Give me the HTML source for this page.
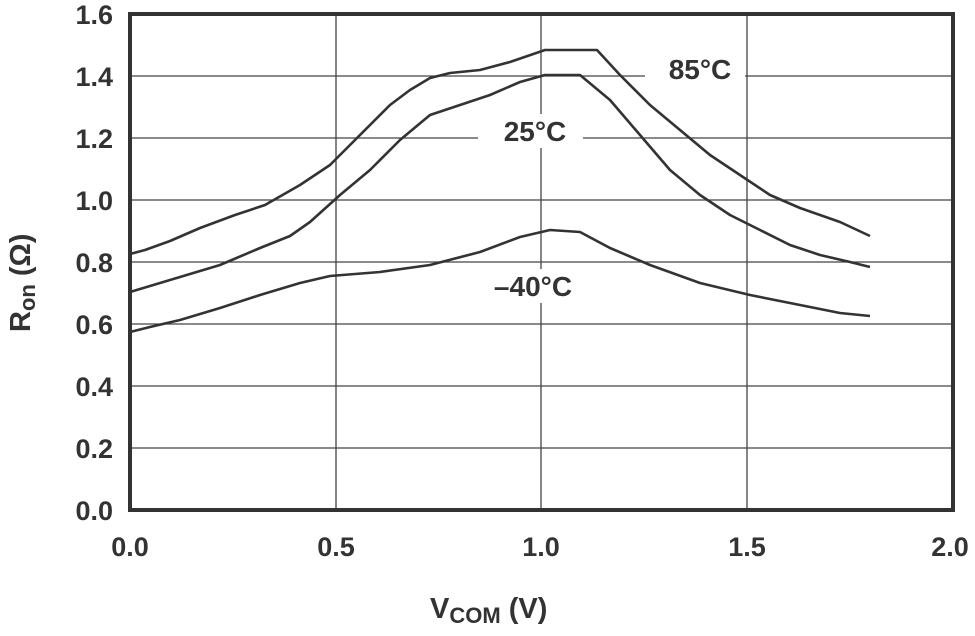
<!DOCTYPE html>
<html><head><style>body{margin:0;background:#fff}</style></head><body>
<svg width="975" height="631" xmlns="http://www.w3.org/2000/svg" font-family="Liberation Sans, sans-serif" font-weight="bold" fill="#333">
<g stroke="#444" stroke-width="1.3">
<line x1="336" y1="14" x2="336" y2="510"/><line x1="541" y1="14" x2="541" y2="510"/><line x1="747" y1="14" x2="747" y2="510"/>
<line x1="130" y1="76" x2="953" y2="76"/><line x1="130" y1="138" x2="953" y2="138"/><line x1="130" y1="200" x2="953" y2="200"/>
<line x1="130" y1="262" x2="953" y2="262"/><line x1="130" y1="324" x2="953" y2="324"/><line x1="130" y1="386" x2="953" y2="386"/><line x1="130" y1="448" x2="953" y2="448"/>
</g>
<rect x="130" y="14" width="823" height="496" fill="none" stroke="#333" stroke-width="4"/>
<g fill="none" stroke="#333" stroke-width="2.6" stroke-linejoin="round">
<polyline points="130,254 145,250 170,241 200,228 235,215 265,205 300,185 330,165 350,145 370,125 390,105 410,90 430,78 450,73 480,70 510,62 545,50 597,50 620,75 650,105 680,130 710,155 740,175 770,195 800,208 840,222 870,236"/>
<polyline points="130,292 150,286 180,277 220,265 260,248 290,236 310,222 340,195 370,170 400,140 430,115 460,105 490,95 520,82 545,75 580,75 610,100 640,135 670,170 700,195 730,215 760,230 790,245 820,255 850,262 870,267"/>
<polyline points="130,332 150,327 180,320 220,308 260,295 300,283 330,276 380,272 430,265 480,252 520,237 550,230 580,232 610,248 650,265 700,283 750,295 800,305 840,313 870,316"/>
</g>
<rect x="645" y="52" width="100" height="34" fill="#fff"/><text x="700" y="79" font-size="28" text-anchor="middle">85°C</text>
<rect x="478" y="114" width="105" height="34" fill="#fff"/><text x="535" y="141" font-size="28" text-anchor="middle">25°C</text>
<rect x="470" y="269" width="130" height="34" fill="#fff"/><text x="533" y="296" font-size="28" text-anchor="middle">–40°C</text>
<g font-size="27" text-anchor="end">
<text x="113" y="24">1.6</text><text x="113" y="86">1.4</text><text x="113" y="148">1.2</text><text x="113" y="210">1.0</text>
<text x="113" y="272">0.8</text><text x="113" y="334">0.6</text><text x="113" y="396">0.4</text><text x="113" y="458">0.2</text><text x="113" y="520">0.0</text>
</g>
<g font-size="27" text-anchor="middle">
<text x="130" y="556">0.0</text><text x="336" y="556">0.5</text><text x="541" y="556">1.0</text><text x="747" y="556">1.5</text><text x="950" y="556">2.0</text>
</g>
<text x="430" y="618" font-size="29">V<tspan font-size="22" dy="5">COM</tspan><tspan dy="-5"> (V)</tspan></text>
<text transform="translate(30,332) rotate(-90)" font-size="29">R<tspan font-size="22" dy="5">on</tspan><tspan dy="-5"> (Ω)</tspan></text>
</svg>
</body></html>
